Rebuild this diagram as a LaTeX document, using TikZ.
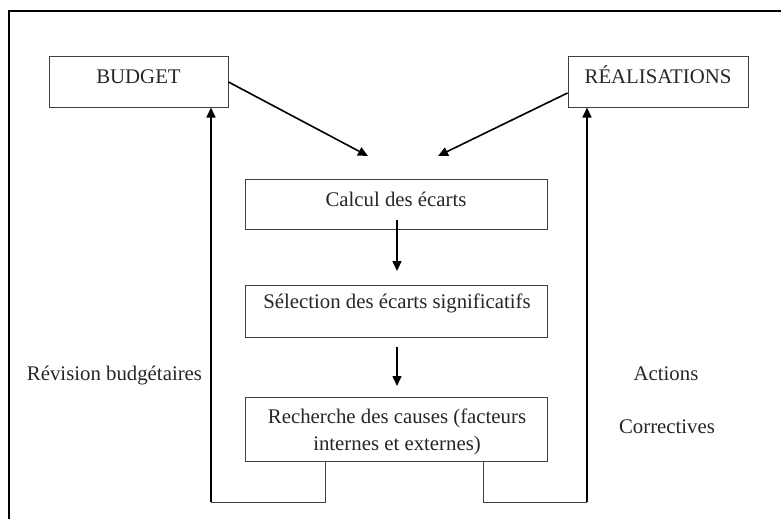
\documentclass[tikz,border=0pt]{standalone}
\usepackage{fontspec}
\setmainfont{Liberation Serif}
\usetikzlibrary{arrows.meta}
\begin{document}
\begin{tikzpicture}[x=1pt,y=-1pt,
  box/.style={draw=black!75, line width=1pt, fill=white, inner sep=0pt},
  lbl/.style={anchor=base, inner sep=0pt, font=\fontsize{20.8}{27}\selectfont, text=black!85},
  conn/.style={line width=1.6pt, -{Triangle[length=10pt,width=9pt]}},
  thin/.style={line width=1pt, draw=black!75},
  frame/.style={line width=2pt}]
\useasboundingbox (0,0) rectangle (781,519);
\draw[frame] (9,519) -- (9,11) -- (781,11);
% boxes
\node[box, minimum width=179, minimum height=50] (budget) at (138.5,82) {};
\node[box, minimum width=180, minimum height=50] (realis) at (658,82) {};
\node[box, minimum width=302, minimum height=50] (calcul) at (396,204) {};
\node[box, minimum width=302, minimum height=52] (select) at (396,311) {};
\node[box, minimum width=302, minimum height=64] (recher) at (396,429) {};
% texts
\node[lbl] (tbudget) at (138.5,83) {BUDGET};
\node[lbl] (trealis) at (658,83) {RÉALISATIONS};
\node[lbl] (tcalcul) at (396,206) {Calcul des écarts};
\node[lbl] (tselect) at (397,308) {Sélection des écarts significatifs};
\node[lbl] (trech1) at (397,423) {Recherche des causes (facteurs};
\node[lbl] (trech2) at (397,450) {internes et externes)};
\node[lbl] (trev) at (114.5,380) {Révision budgétaires};
\node[lbl] (tact) at (666,380) {Actions};
\node[lbl] (tcor) at (667,433) {Correctives};
% connectors
\coordinate (tipL) at (368,156);
\coordinate (tipR) at (438,156);
\draw[conn] (budget.east) -- (tipL);
\draw[conn] ([yshift=-11pt]realis.west) -- (tipR);
\coordinate (a1) at (397,220);
\coordinate (a1e) at (397,271);
\coordinate (a2) at (397,347);
\coordinate (a2e) at (397,386);
\draw[conn] (a1) -- (a1e);
\draw[conn] (a2) -- (a2e);
% feedback loops
\coordinate (lb) at (325,502);
\coordinate (lc) at (211,502);
\coordinate (rb) at (483,502);
\coordinate (rc) at (587,502);
\draw[thin] (lb |- recher.south) -- (lb) -- (lc);
\draw[conn] (lc) -- (lc |- budget.south);
\draw[thin] (rb |- recher.south) -- (rb) -- (rc);
\draw[conn] (rc) -- (rc |- realis.south);
\end{tikzpicture}
\end{document}
